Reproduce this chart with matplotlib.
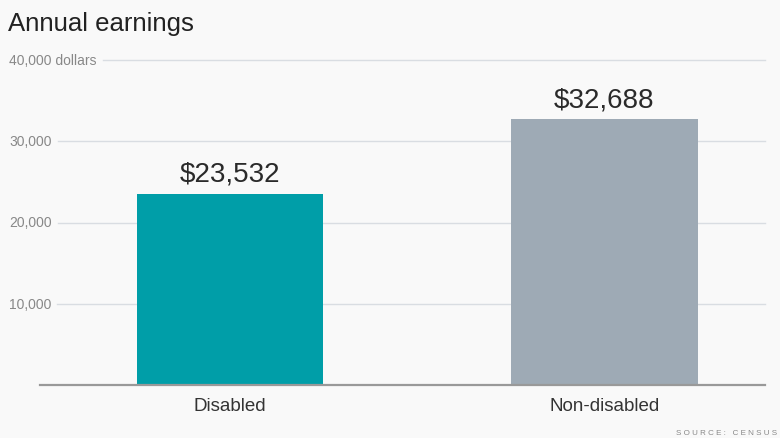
import matplotlib
matplotlib.use('Agg')
import matplotlib.pyplot as plt
import matplotlib.transforms as mtrans

# data
categories = ['Disabled', 'Non-disabled']
earnings = [23532, 32688]
bar_colors = ['#009ea8', '#9eaab5']
grid_values = [10000, 20000, 30000, 40000]
grid_labels = ['10,000', '20,000', '30,000', '40,000 dollars']

plt.rcParams['font.family'] = ['Liberation Sans', 'DejaVu Sans']

W, H = 780, 439
fig = plt.figure(figsize=(W / 100, H / 100), dpi=100, facecolor='#f9f9f9')
ax = fig.add_axes([40 / W, (H - 386) / H, 725 / W, 325 / H])
ax.set_facecolor('#f9f9f9')

x = list(range(len(categories)))
ax.bar(x, earnings, width=0.497, color=bar_colors, zorder=3)
ax.set_xlim(-0.507, 1.4286)
ax.set_ylim(0, 40000)

for xi, v in zip(x, earnings):
    ax.text(xi, v + 900, '${:,}'.format(v), ha='center', va='bottom',
            fontsize=20, color='#2a2a2a', zorder=4)

# baseline
ax.axhline(0, color='#999999', lw=1.6, zorder=4, clip_on=False)

# y labels sitting in line with the gridlines
lab_tr = mtrans.blended_transform_factory(fig.transFigure, ax.transData)
texts = []
for v, lab in zip(grid_values, grid_labels):
    t = fig.text(9 / W, v, lab, transform=lab_tr, ha='left', va='center',
                 fontsize=10, color='#888888')
    texts.append(t)

fig.canvas.draw()
r = fig.canvas.get_renderer()
for v, t in zip(grid_values, texts):
    bb = t.get_window_extent(r)
    x0 = (bb.x1 + 6) / W
    ax.plot([x0, 765 / W], [v, v], transform=lab_tr, color='#d9dde2',
            lw=1.0, zorder=1, clip_on=False)

ax.set_xticks(x)
ax.set_xticklabels(categories, fontsize=13.5, color='#333333')
ax.tick_params(axis='x', length=0, pad=9)
ax.set_yticks([])
for s in ax.spines.values():
    s.set_visible(False)

fig.text(8 / W, 1 - 24 / H, 'Annual earnings', fontsize=18.5, color='#222222',
         ha='left', va='center')
fig.text(777 / W, 1 - 434 / H, 'S O U R C E :   C E N S U S', fontsize=5.8,
         color='#888888', ha='right', va='center')

fig.savefig('out.png', dpi=100, facecolor=fig.get_facecolor())
